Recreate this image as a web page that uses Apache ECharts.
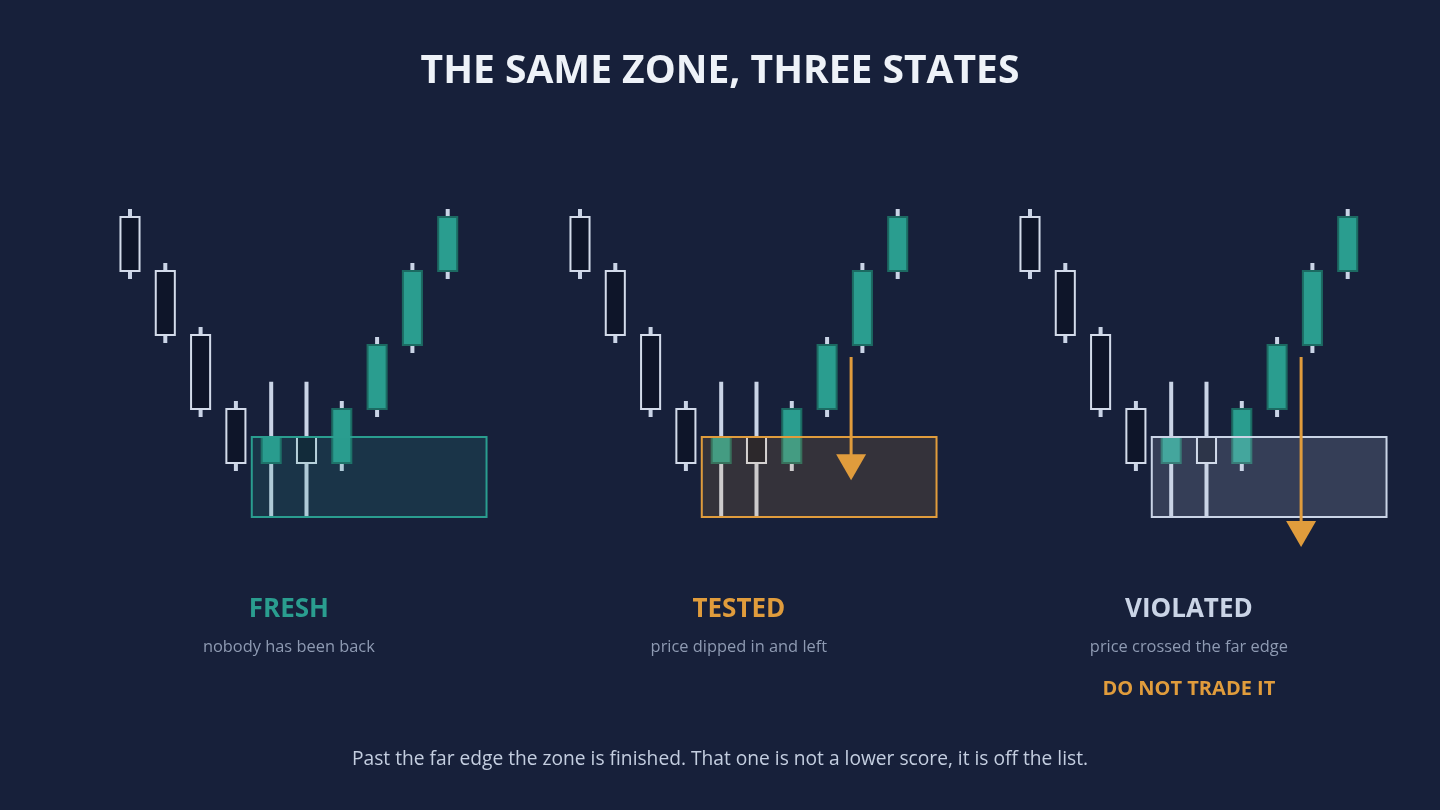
<!DOCTYPE html>
<html><head><meta charset="utf-8">
<script src="https://cdn.jsdelivr.net/npm/echarts@6/dist/echarts.min.js"></script>
<style>html,body{margin:0;padding:0;background:#17203a;}#c{width:1440px;height:810px;}</style>
</head><body><div id="c"></div>
<script>
// ---- data ----
const candleIndex = [0, 1, 2, 3, 4, 5, 6, 7, 8, 9];
const candleOpen  = [137.5, 130.75, 122.75, 113.5, 106.75, 110, 106.75, 113.5, 121.5, 130.75];
const candleClose = [130.75, 122.75, 113.5, 106.75, 110, 106.75, 113.5, 121.5, 130.75, 137.5];
const candleLow   = [129.75, 121.75, 112.5, 105.75, 100, 100, 105.75, 112.5, 120.5, 129.75];
const candleHigh  = [138.5, 131.75, 123.75, 114.5, 116.9, 116.9, 114.5, 122.5, 131.75, 138.5];

const zoneLow = 100;
const zoneHigh = 110;
const zoneStart = 3.45;
const zoneEnd = 10.1;

const panelNames = ['FRESH', 'TESTED', 'VIOLATED'];
const panelNotes = ['nobody has been back', 'price dipped in and left', 'price crossed the far edge'];
const panelWarnings = ['', '', 'DO NOT TRADE IT'];
// arrow: x position (candle units), start price, tip price ; null = no arrow
const arrowX    = [null, 7.68, 7.68];
const arrowFrom = [null, 120, 120];
const arrowTo   = [null, 104.6, 96.25];

const titleText = 'THE SAME ZONE, THREE STATES';
const footerText = 'Past the far edge the zone is finished. That one is not a lower score, it is off the list.';

// ---- styles ----
const BG = '#17203a';
const TEAL = '#2a9d8f';
const ORANGE = '#e09c3c';
const LIGHT = '#cad4e6';
const panelColors = [TEAL, ORANGE, LIGHT];
const zoneAlpha = [0.17, 0.15, 0.17];
const FONT = '"Open Sans", "Noto Sans", sans-serif';

const PX_PER_X = 35.3;
const panelOffsets = [0, 450, 900];
const firstCandlePx = 130;

const chart = echarts.init(document.getElementById('c'));

const grids = [], xAxes = [], yAxes = [], series = [], graphics = [];

function renderCandle(params, api) {
  const i = api.value(0), o = api.value(1), c = api.value(2), l = api.value(3), h = api.value(4);
  const pO = api.coord([i, o]), pC = api.coord([i, c]), pL = api.coord([i, l]), pH = api.coord([i, h]);
  const w = api.size([0.54, 0])[0];
  const bull = c > o;
  const top = Math.min(pO[1], pC[1]), bot = Math.max(pO[1], pC[1]);
  return {
    type: 'group',
    children: [
      { type: 'rect', shape: { x: pH[0] - 2, y: pH[1], width: 4, height: pL[1] - pH[1] }, style: { fill: LIGHT } },
      { type: 'rect', shape: { x: pO[0] - w / 2, y: top, width: w, height: bot - top },
        style: { fill: bull ? TEAL : '#0e1529', stroke: bull ? '#1c6a62' : '#d3dbea', lineWidth: 2 } }
    ]
  };
}

panelNames.forEach((name, p) => {
  const left = panelOffsets[p] + firstCandlePx - 0.5 * PX_PER_X;
  grids.push({ left: left, width: 11 * PX_PER_X, top: 197, height: 360 });
  xAxes.push({ type: 'value', gridIndex: p, min: -0.5, max: 10.5, show: false });
  yAxes.push({ type: 'value', gridIndex: p, min: 95, max: 140, show: false });

  series.push({
    type: 'custom', xAxisIndex: p, yAxisIndex: p, z: 2, clip: false,
    renderItem: renderCandle,
    data: candleIndex.map((x, k) => [x, candleOpen[k], candleClose[k], candleLow[k], candleHigh[k]])
  });

  const col = panelColors[p];
  series.push({
    type: 'custom', xAxisIndex: p, yAxisIndex: p, z: 3, clip: false,
    renderItem: function (params, api) {
      const a = api.coord([api.value(0), api.value(3)]);
      const b = api.coord([api.value(1), api.value(2)]);
      return { type: 'rect', shape: { x: a[0], y: a[1], width: b[0] - a[0], height: b[1] - a[1] },
        style: { fill: echarts.color.modifyAlpha(col, zoneAlpha[p]), stroke: col, lineWidth: 2 } };
    },
    data: [[zoneStart, zoneEnd, zoneLow, zoneHigh]]
  });

  if (arrowX[p] !== null) {
    series.push({
      type: 'custom', xAxisIndex: p, yAxisIndex: p, z: 4, clip: false,
      renderItem: function (params, api) {
        const s = api.coord([api.value(0), api.value(1)]);
        const t = api.coord([api.value(0), api.value(2)]);
        const hh = 26, hw = 15;
        return { type: 'group', children: [
          { type: 'line', shape: { x1: s[0], y1: s[1], x2: t[0], y2: t[1] - hh + 2 }, style: { stroke: ORANGE, lineWidth: 3 } },
          { type: 'polygon', shape: { points: [[t[0] - hw, t[1] - hh], [t[0] + hw, t[1] - hh], [t[0], t[1]]] }, style: { fill: ORANGE } }
        ]};
      },
      data: [[arrowX[p], arrowFrom[p], arrowTo[p]]]
    });
  }

  const cx = panelOffsets[p] + firstCandlePx + 4.5 * PX_PER_X;
  graphics.push({ type: 'text', x: cx, y: 610, style: { text: name, fill: col, font: 'bold 26px ' + FONT, textAlign: 'center', textVerticalAlign: 'middle' } });
  graphics.push({ type: 'text', x: cx, y: 647, style: { text: panelNotes[p], fill: '#8e9ab2', font: '16.4px ' + FONT, textAlign: 'center', textVerticalAlign: 'middle' } });
  if (panelWarnings[p]) {
    graphics.push({ type: 'text', x: cx, y: 689, style: { text: panelWarnings[p], fill: ORANGE, font: 'bold 20px ' + FONT, textAlign: 'center', textVerticalAlign: 'middle' } });
  }
});

graphics.push({ type: 'text', x: 720, y: 72, style: { text: titleText, fill: '#eef2f8', font: 'bold 39px ' + FONT, textAlign: 'center', textVerticalAlign: 'middle' } });
graphics.push({ type: 'text', x: 720, y: 760, style: { text: footerText, fill: '#c4cee0', font: '19.2px ' + FONT, textAlign: 'center', textVerticalAlign: 'middle' } });

chart.setOption({
  backgroundColor: BG,
  animation: false,
  grid: grids, xAxis: xAxes, yAxis: yAxes, series: series,
  graphic: graphics
});
</script></body></html>
